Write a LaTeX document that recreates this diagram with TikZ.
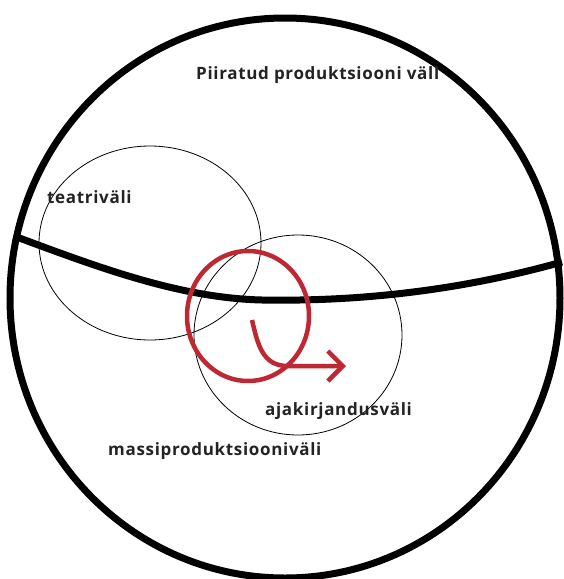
\documentclass[tikz,border=0pt]{standalone}
\usepackage{fontspec}
\setmainfont{Open Sans}[LetterSpace=4]
\usetikzlibrary{arrows.meta}
\definecolor{pen}{RGB}{190,40,50}
\definecolor{ink}{RGB}{35,35,35}

\begin{document}
\begin{tikzpicture}[
  x=1pt, y=-1pt,
  boldline/.style={line width=7pt},
  fieldline/.style={line width=0.8pt},
  redline/.style={draw=pen, line width=4.5pt},
  fieldtext/.style={font=\bfseries\fontsize{17}{19}\selectfont, text=ink, inner sep=0pt}
]
\useasboundingbox[fill=white] (0,0) rectangle (564,579);

% outer field and the dividing line
\draw[boldline] (285,298) ellipse [x radius=275, y radius=280];
\draw[boldline] (14,236) .. controls (100,268) and (180,298) .. (262,300)
  .. controls (380,302) and (480,285) .. (562,262);

% sub-fields
\draw[fieldline] (150,243) ellipse [x radius=111, y radius=97];
\draw[fieldline] (298,335) ellipse [x radius=104, y radius=100];

% red loop
\draw[redline] (248,316) ellipse [x radius=61, y radius=65];
\draw[redline, -{Straight Barb[length=15pt, width=30pt]}]
  (252,320) .. controls (258,346) and (263,366) .. (288,366) -- (346,366);

\node[fieldtext, anchor=west] (piiratud) at (196,75) {Piiratud produktsiooni väll};
\node[fieldtext, anchor=west] (teater) at (47,197) {teatriväli};
\node[fieldtext, anchor=west] (ajakiri) at (265,411) {ajakirjandusväli};
\node[fieldtext, anchor=west] (massi) at (108,451) {massiproduktsiooniväli};

\end{tikzpicture}
\end{document}
